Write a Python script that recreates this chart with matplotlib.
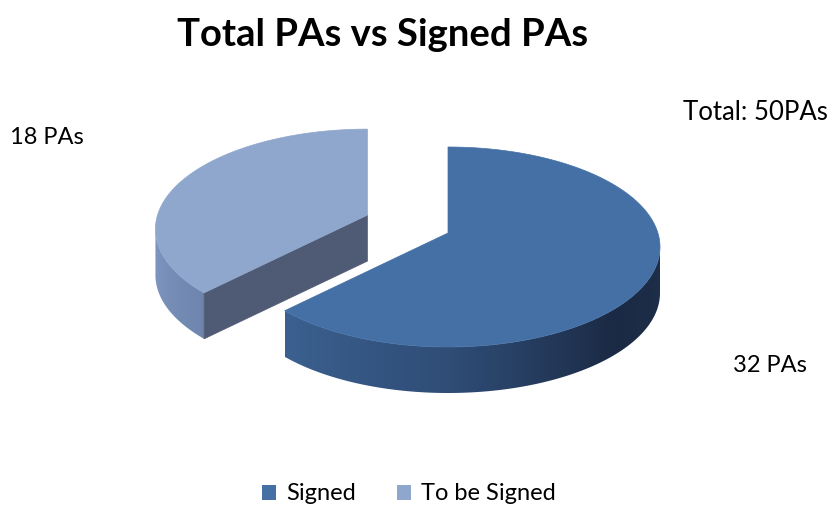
import numpy as np
import matplotlib.pyplot as plt
from matplotlib.patches import Polygon, Patch
from matplotlib.colors import to_rgb

plt.rcParams['font.family'] = ['Lato', 'DejaVu Sans']

# data
categories = ['Signed', 'To be Signed']
values = [32, 18]
slice_labels = ['32 PAs', '18 PAs']
total_label = 'Total: 50PAs'
title = 'Total PAs vs Signed PAs'

top_colours = ['#4470A6', '#8FA7CD']
cut_colours = ['#1E2E4A', '#4F5B74']
# wall gradients, colour stops along the angle
wall_stops = [
    [(219.6, '#3C6190'), (270, '#2F4D77'), (320, '#1B2A44'), (360, '#1E2F4B')],
    [(180, '#8199C2'), (220, '#6E86AE')],
]

# layout (pixel space)
cx, cy = 448, 247
rx, ry = 212, 100
depth = 46
apex_dy = -14   # fake perspective: slice apex sits a bit above the rim centre
explode = [0.0, 0.42]

fig = plt.figure(figsize=(8.35, 5.09), dpi=100)
ax = fig.add_axes([0, 0, 1, 1])
ax.set_xlim(0, 835)
ax.set_ylim(509, 0)
ax.axis('off')


def rim(x0, y0, a0, a1, n=80):
    t = np.radians(np.linspace(a0, a1, n))
    return x0 + rx * np.cos(t), y0 - ry * np.sin(t)


def gradient_wall(x0, y0, w0, w1, stops):
    xs, ys = rim(x0, y0, w0, w1, 200)
    poly = list(zip(xs, ys)) + list(zip(xs[::-1], ys[::-1] + depth))
    patch = Polygon(poly, closed=True, facecolor='none', edgecolor='none')
    ax.add_patch(patch)
    # colour each column by the angle of the rim point above it
    angs = np.linspace(w0, w1, 400)
    cols_x = x0 + rx * np.cos(np.radians(angs))
    order = np.argsort(cols_x)
    grid_x = np.linspace(cols_x.min(), cols_x.max(), 400)
    a_at_x = np.interp(grid_x, cols_x[order], angs[order])
    s_ang = [s[0] for s in stops]
    s_col = np.array([to_rgb(s[1]) for s in stops])
    img = np.stack([np.interp(a_at_x, s_ang, s_col[:, k]) for k in range(3)], axis=-1)[None, :, :]
    im = ax.imshow(img, extent=(grid_x.min(), grid_x.max(), ys.max() + depth + 1, ys.min() - 1),
                   aspect='auto', interpolation='bilinear')
    im.set_clip_path(patch)


# angles: start at 12 o'clock, clockwise
fracs = np.array(values) / sum(values)
starts = 90 - 360 * np.concatenate([[0], np.cumsum(fracs)[:-1]])
ends = starts - 360 * fracs

for i in [1, 0]:  # back slice first
    mid = np.radians((ends[i] + starts[i]) / 2)
    x0 = cx + explode[i] * rx * np.cos(mid)
    y0 = cy - explode[i] * ry * np.sin(mid)
    ay = y0 + apex_dy

    lo = ends[i] % 360
    hi = lo + (starts[i] - ends[i])

    # cut faces that face the viewer
    for edge, normal in [(lo, lo - 90), (hi, hi + 90)]:
        if np.sin(np.radians(normal)) < -0.05:
            ex, ey = rim(x0, y0, edge, edge, 1)
            quad = [(x0, ay), (ex[0], ey[0]), (ex[0], ey[0] + depth), (x0, ay + depth)]
            ax.add_patch(Polygon(quad, closed=True, facecolor=cut_colours[i],
                                 edgecolor=cut_colours[i], lw=0.5))

    # outer wall, front half only
    for k in range(-1, 2):
        w0 = max(lo, 180 + 360 * k)
        w1 = min(hi, 360 + 360 * k)
        if w1 <= w0:
            continue
        stops = [(a + 360 * k, c) for a, c in wall_stops[i]]
        gradient_wall(x0, y0, w0, w1, stops)

    # top face
    xs, ys = rim(x0, y0, lo, hi, 200)
    pts = [(x0, ay)] + list(zip(xs, ys))
    ax.add_patch(Polygon(pts, closed=True, facecolor=top_colours[i],
                         edgecolor=top_colours[i], lw=0.5))

# text
ax.text(383, 35, title, ha='center', va='center', fontsize=27.5, fontweight='bold', color='#000000')
ax.text(10, 138, slice_labels[1], ha='left', va='center', fontsize=17)
ax.text(755, 112, total_label, ha='center', va='center', fontsize=18.5)
ax.text(770, 366, slice_labels[0], ha='center', va='center', fontsize=17)

handles = [Patch(facecolor=c, edgecolor='none') for c in top_colours]
ax.legend(handles, categories, loc='center', bbox_to_anchor=(409 / 835, 1 - 494 / 509),
          ncol=2, frameon=False, fontsize=17, handlelength=0.6, handleheight=0.6,
          handletextpad=0.45, columnspacing=1.7)

ax.set_xlim(0, 835)
ax.set_ylim(509, 0)
fig.savefig('out.png', dpi=100)
